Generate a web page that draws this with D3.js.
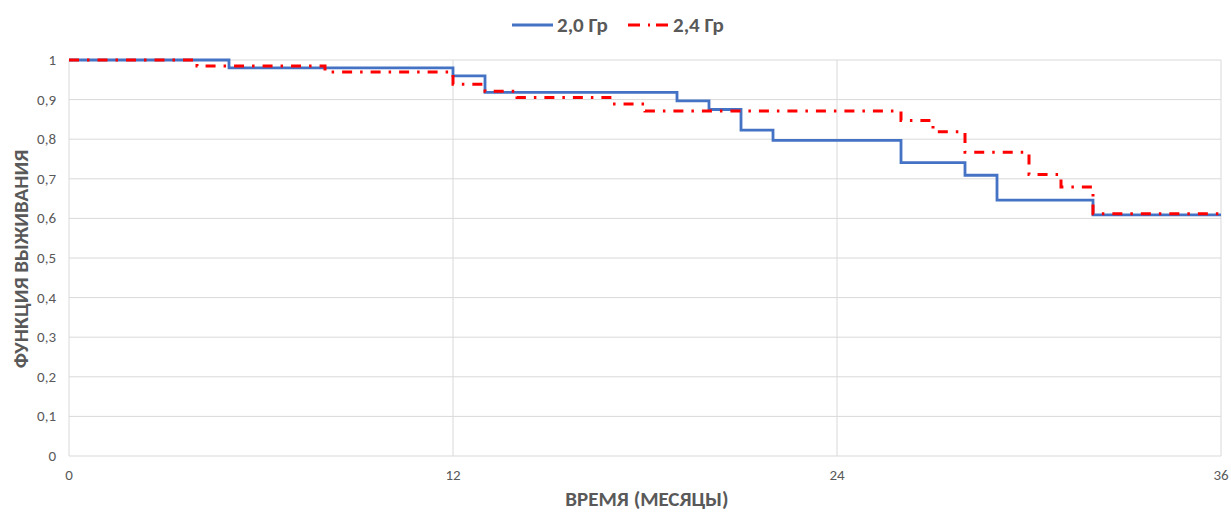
<!DOCTYPE html>
<html><head><meta charset="utf-8">
<script src="https://cdn.jsdelivr.net/npm/d3@7"></script>
<style>body{margin:0;background:#fff;}svg{display:block;}</style>
</head><body><svg id="c" width="1231" height="513"></svg>
<script>
const months20 = [0, 5, 12, 13, 19, 20, 21, 22, 26, 28, 29, 32, 36];
const surv20   = [1, 0.98, 0.96, 0.918, 0.897, 0.875, 0.823, 0.797, 0.741, 0.709, 0.646, 0.609, 0.609];
const months24 = [0, 4, 8, 12, 13, 14, 17, 18, 26, 27, 28, 30, 31, 32, 36];
const surv24   = [1, 0.985, 0.97, 0.939, 0.921, 0.905, 0.889, 0.871, 0.847, 0.819, 0.767, 0.711, 0.679, 0.612, 0.612];
const xTicks = [0, 12, 24, 36];
const yTicks = [0, 0.1, 0.2, 0.3, 0.4, 0.5, 0.6, 0.7, 0.8, 0.9, 1];
const seriesNames = ["2,0 Гр", "2,4 Гр"];

const svg = d3.select("#c");
const font = "Calibri, Carlito, 'Open Sans', 'Liberation Sans', sans-serif";
const x = d3.scaleLinear().domain([0, 36]).range([69, 1221]);
const y = d3.scaleLinear().domain([0, 1]).range([456, 60]);
const grid = "#d9d9d9", txt = "#595959";

svg.append("g").selectAll("line").data(yTicks).join("line")
  .attr("x1", x(0)).attr("x2", x(36)).attr("y1", d => y(d)).attr("y2", d => y(d))
  .attr("stroke", grid).attr("stroke-width", 1);
svg.append("g").selectAll("line").data(xTicks).join("line")
  .attr("x1", d => x(d)).attr("x2", d => x(d)).attr("y1", y(0)).attr("y2", y(1))
  .attr("stroke", grid).attr("stroke-width", 1);

svg.append("g").selectAll("text").data(yTicks).join("text")
  .attr("x", 56).attr("y", d => y(d)).attr("dy", "0.33em")
  .attr("text-anchor", "end").attr("fill", txt)
  .attr("font-family", font).attr("font-size", 15)
  .text(d => d3.format(".1~f")(d).replace(".", ","));
svg.append("g").selectAll("text").data(xTicks).join("text")
  .attr("x", d => x(d)).attr("y", 475).attr("dy", "0.33em")
  .attr("text-anchor", "middle").attr("fill", txt)
  .attr("font-family", font).attr("font-size", 15)
  .text(d => d);

svg.append("text").attr("x", 647).attr("y", 499).attr("dy", "0.35em")
  .attr("text-anchor", "middle").attr("fill", txt).attr("font-weight", "bold")
  .attr("font-family", font).attr("font-size", 21).text("ВРЕМЯ (МЕСЯЦЫ)");
svg.append("text").attr("transform", "translate(21,259) rotate(-90)").attr("dy", "0.35em")
  .attr("text-anchor", "middle").attr("fill", txt).attr("font-weight", "bold")
  .attr("font-family", font).attr("font-size", 21).text("ФУНКЦИЯ ВЫЖИВАНИЯ");

const line = d3.line().x(d => x(d[0])).y(d => y(d[1])).curve(d3.curveStepAfter);
const d20 = months20.map((m, i) => [m, surv20[i]]);
const d24 = months24.map((m, i) => [m, surv24[i]]);

svg.append("path").datum(d20).attr("d", line).attr("fill", "none")
  .attr("stroke", "#4472c4").attr("stroke-width", 2.8);
svg.append("path").datum(d24).attr("d", line).attr("fill", "none")
  .attr("stroke", "#ff0000").attr("stroke-width", 3).attr("stroke-dasharray", "10,8,2.5,8");

const lg = svg.append("g");
lg.append("line").attr("x1", 512).attr("x2", 553).attr("y1", 25).attr("y2", 25)
  .attr("stroke", "#4472c4").attr("stroke-width", 2.8);
lg.append("text").attr("x", 557).attr("y", 25).attr("dy", "0.35em").attr("fill", txt)
  .attr("font-weight", "bold").attr("font-family", font).attr("font-size", 21).text(seriesNames[0]);
lg.append("line").attr("x1", 628).attr("x2", 668).attr("y1", 25).attr("y2", 25)
  .attr("stroke", "#ff0000").attr("stroke-width", 3).attr("stroke-dasharray", "12,8,2,6");
lg.append("text").attr("x", 673).attr("y", 25).attr("dy", "0.35em").attr("fill", txt)
  .attr("font-weight", "bold").attr("font-family", font).attr("font-size", 21).text(seriesNames[1]);
</script></body></html>
